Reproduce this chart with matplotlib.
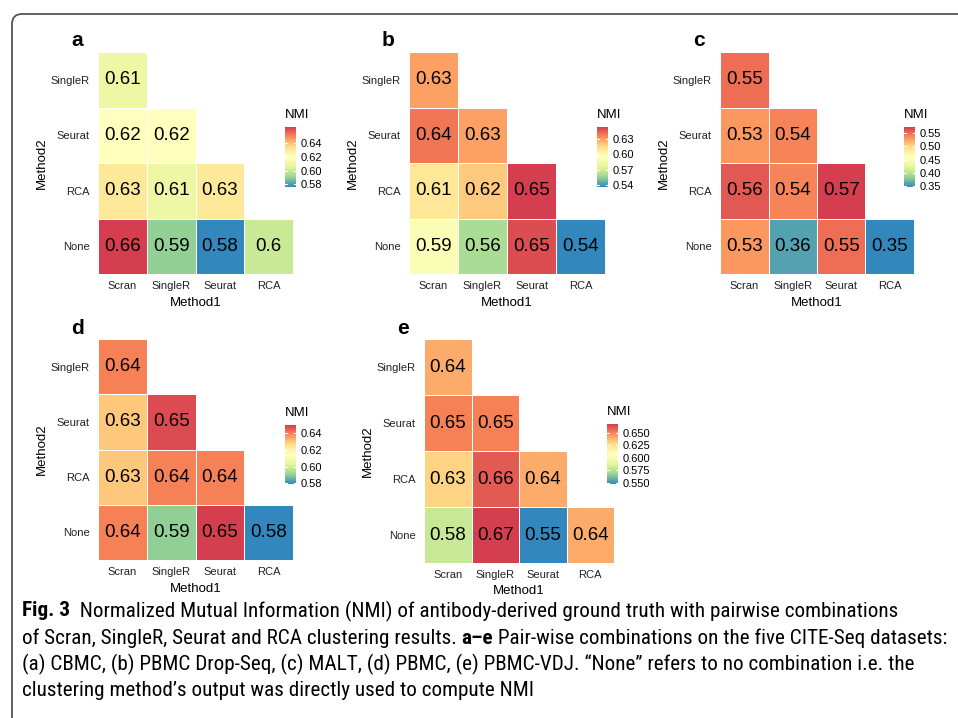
import numpy as np
import matplotlib
matplotlib.use("Agg")
import matplotlib.pyplot as plt
from matplotlib import font_manager as fm
from matplotlib.colors import LinearSegmentedColormap
from matplotlib.patches import FancyBboxPatch
from matplotlib.transforms import IdentityTransform

plt.rcParams['font.family'] = ['Liberation Sans', 'DejaVu Sans']

# method names
methods1 = ["Scran", "SingleR", "Seurat", "RCA"]
methods2 = ["SingleR", "Seurat", "RCA", "None"]   # top -> bottom

# NMI values, rows = methods2 (top->bottom), lower triangle only
nmi_a = [[0.61], [0.62, 0.62], [0.63, 0.61, 0.63], [0.664, 0.59, 0.576, 0.6]]
nmi_b = [[0.63], [0.64, 0.63], [0.61, 0.62, 0.654], [0.59, 0.56, 0.65, 0.536]]
nmi_c = [[0.55], [0.53, 0.54], [0.56, 0.54, 0.573], [0.53, 0.36, 0.55, 0.347]]
nmi_d = [[0.64], [0.63, 0.648], [0.63, 0.64, 0.64], [0.64, 0.59, 0.65, 0.579]]
nmi_e = [[0.64], [0.65, 0.65], [0.63, 0.66, 0.64], [0.58, 0.667, 0.548, 0.64]]

ticks_a = [0.58, 0.60, 0.62, 0.64]
ticks_b = [0.54, 0.57, 0.60, 0.63]
ticks_c = [0.35, 0.40, 0.45, 0.50, 0.55]
ticks_d = [0.58, 0.60, 0.62, 0.64]
ticks_e = [0.550, 0.575, 0.600, 0.625, 0.650]

W, H = 958, 718
fig = plt.figure(figsize=(W / 100, H / 100), dpi=100)

def px(x0, y0, x1, y1):
    return [x0 / W, 1 - y1 / H, (x1 - x0) / W, (y1 - y0) / H]

cmap = LinearSegmentedColormap.from_list(
    "spec", ['#3288BD', '#99D594', '#E6F598', '#FFFFBF', '#FEE08B', '#FC8D59', '#D53E4F'])

def panel(vals, ticks, fmt, letter, box, cbox):
    x0, y0, x1, y1 = box
    grid = np.full((4, 4), np.nan)
    for i, row in enumerate(vals):
        grid[3 - i, :len(row)] = row
    data = np.ma.masked_invalid(grid)
    ax = fig.add_axes(px(*box))
    m = ax.pcolormesh(np.arange(5), np.arange(5), data, cmap=cmap,
                      vmin=np.nanmin(grid), vmax=np.nanmax(grid),
                      edgecolors='white', linewidth=0.6)
    for i, row in enumerate(vals):
        for j, v in enumerate(row):
            ax.text(j + 0.5, 3 - i + 0.5, f"{round(v, 2):g}", ha='center', va='center',
                    fontsize=13.5, color='black')
    ax.set_xlim(0, 4)
    ax.set_ylim(0, 4)
    for s in ax.spines.values():
        s.set_visible(False)
    ax.set_xticks(np.arange(4) + 0.5)
    ax.set_xticklabels(methods1)
    ax.set_yticks(np.arange(4) + 0.5)
    ax.set_yticklabels(methods2[::-1])
    ax.tick_params(length=0, labelsize=8, labelcolor='#222222')
    ax.tick_params(axis='y', pad=6)
    ax.tick_params(axis='x', pad=5)
    ax.set_xlabel("Method1", fontsize=9.5, labelpad=4)
    ax.set_ylabel("Method2", fontsize=9.5, labelpad=2)
    fig.text((x0 - 21) / W, 1 - (y0 - 11) / H, letter, fontsize=15,
             fontweight='bold', ha='center', va='center')

    cx0, cy0, cx1, cy1 = cbox
    cax = fig.add_axes(px(*cbox))
    cb = fig.colorbar(m, cax=cax)
    cb.outline.set_visible(False)
    cb.set_ticks(ticks)
    cb.set_ticklabels([fmt.format(t) for t in ticks])
    cax.tick_params(length=0, labelsize=8, pad=3)
    for t in ticks:
        cax.plot([0, 0.2], [t, t], color='white', lw=0.8)
        cax.plot([0.8, 1], [t, t], color='white', lw=0.8)
    fig.text(cx0 / W, 1 - (cy0 - 12) / H, "NMI", fontsize=9.5,
             ha='left', va='center')

panel(nmi_a, ticks_a, "{:.2f}", "a", (98, 52, 293, 274), (285, 127, 296, 187))
panel(nmi_b, ticks_b, "{:.2f}", "b", (409, 52, 605, 274), (597, 127, 608, 187))
panel(nmi_c, ticks_c, "{:.2f}", "c", (720, 52, 914, 274), (904, 127, 915, 187))
panel(nmi_d, ticks_d, "{:.2f}", "d", (98, 339, 293, 560), (285, 425, 296, 484))
panel(nmi_e, ticks_e, "{:.3f}", "e", (424, 339, 614, 563), (607, 424, 618, 484))

# rounded frame
frame = FancyBboxPatch((12, H - 760), 980, 746, boxstyle="round,pad=0,rounding_size=10",
                       transform=IdentityTransform(), facecolor='none',
                       edgecolor='#555555', linewidth=1.3)
fig.patches.append(frame)

# pick a condensed font for the caption if one is installed
def condensed_font():
    fonts = fm.fontManager.ttflist
    names = {f.name for f in fonts}
    for n in ['Liberation Sans Narrow', 'Roboto Condensed', 'Open Sans Condensed']:
        if n in names:
            return n, 'normal'
    for n in ['Noto Sans', 'Open Sans', 'Roboto', 'DejaVu Sans']:
        for f in fonts:
            if f.name == n and str(f.stretch) in ('condensed', 'semi-condensed'):
                return n, f.stretch
    return 'Liberation Sans', 'normal'

cap_family, cap_stretch = condensed_font()

caption = [
    [("Fig. 3", 'bold'), ("  Normalized Mutual Information (NMI) of antibody-derived ground truth with pairwise combinations", 'normal')],
    [("of Scran, SingleR, Seurat and RCA clustering results. ", 'normal'), ("a\u2013e", 'bold'),
     (" Pair-wise combinations on the five CITE-Seq datasets:", 'normal')],
    [("(a) CBMC, (b) PBMC Drop-Seq, (c) MALT, (d) PBMC, (e) PBMC-VDJ. \u201cNone\u201d refers to no combination i.e. the", 'normal')],
    [("clustering method\u2019s output was directly used to compute NMI", 'normal')],
]
line_y = [611, 638, 664, 690]
line_w = [895, 930, 929, 565]   # widths of the caption lines in the reference, px
renderer = fig.canvas.get_renderer()

def draw_line(runs, y, size, x=22):
    objs = []
    for s, w in runs:
        t = fig.text(x / W, 1 - y / H, s, fontsize=size, fontweight=w,
                     family=[cap_family, 'DejaVu Sans'], fontstretch=cap_stretch,
                     ha='left', va='center')
        x += t.get_window_extent(renderer).width
        objs.append(t)
    return x - 22, objs

# measure at 14 pt, then pick one size so that no line runs past its reference width
scale = 10.0
for runs, y, tw in zip(caption, line_y, line_w):
    width, objs = draw_line(runs, y, 14)
    for o in objs:
        o.remove()
    scale = min(scale, tw / width)
size = 14 * scale
for runs, y in zip(caption, line_y):
    draw_line(runs, y, size)

fig.savefig("out.png", dpi=100)
